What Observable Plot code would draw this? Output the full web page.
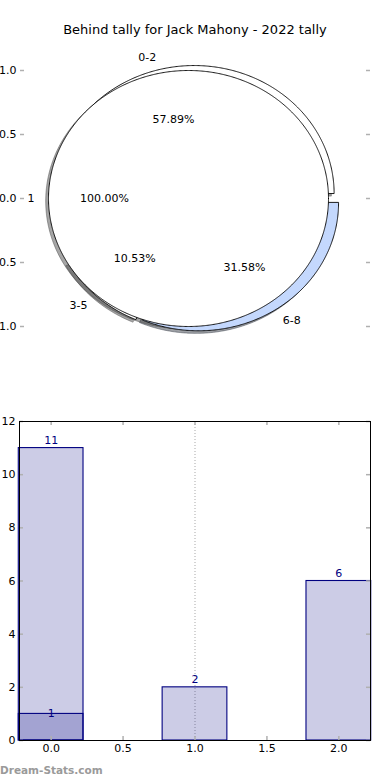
<!DOCTYPE html>
<html><head><meta charset="utf-8">
<script src="https://cdn.jsdelivr.net/npm/d3@7"></script>
<script src="https://cdn.jsdelivr.net/npm/@observablehq/plot@0.6"></script>
<style>
html,body{margin:0;padding:0;background:#fff;}
#wrap{position:relative;width:390px;height:780px;overflow:hidden;font-family:"DejaVu Sans",sans-serif;background:#fff;}
#title{position:absolute;left:0;top:0;width:390px;height:38px;box-sizing:border-box;padding-top:21px;line-height:18px;font-size:13px;text-align:center;color:#000;white-space:nowrap;}
#pie{position:absolute;left:0;top:38px;}
#bar{position:absolute;left:0;top:378px;}
#caption{position:absolute;left:0;top:761px;height:18px;line-height:18px;font-size:10.5px;font-weight:bold;color:#9a9a9a;white-space:nowrap;}
</style></head><body>
<div id="wrap">
  <div id="title">Behind tally for Jack Mahony - 2022 tally</div>
  <div id="pie"></div>
  <div id="bar"></div>
  <div id="caption">Dream-Stats.com</div>
</div>
<script>
// ---- data ----
const outerLabels = ["0-2", "3-5", "6-8"];
const outerValues = [11, 2, 6];
const outerColors = ["#ffffff", "#ffffff", "#c4d8fd"];
const innerLabels = ["1"];
const innerValues = [1];
const innerColors = ["#ffffff"];
const pieTicks = [-1, -0.5, 0, 0.5, 1];

const barCategories = [0, 1, 2];
const barValues = [11, 2, 6];
const overlayCategories = [0];
const overlayValues = [1];
const barTicksX = [0, 0.5, 1, 1.5, 2];
const barTicksY = [0, 2, 4, 6, 8, 10, 12];

// ---- settings ----
const OUTER_EXPLODE = 0.04, INNER_EXPLODE = 0.05, RADIUS = 1;
const SHADOW_DX = -0.02, SHADOW_DY = -0.02;
const BAR_WIDTH = 0.45;
const FONT = "DejaVu Sans";

function pieLayout(values, labels, colors, explode) {
  const total = d3.sum(values);
  let acc = 0;
  return values.map((v, i) => {
    const frac = v / total;
    const t1 = acc * 2 * Math.PI, t2 = (acc + frac) * 2 * Math.PI;
    acc += frac;
    const mid = (t1 + t2) / 2;
    const cx = explode * Math.cos(mid), cy = explode * Math.sin(mid);
    const full = frac > 0.999999;
    const n = Math.max(4, Math.ceil(frac * 720));
    const pts = [];
    if (!full) pts.push({x: cx, y: cy});
    for (let k = 0; k <= n; k++) {
      const t = t1 + (t2 - t1) * k / n;
      pts.push({x: cx + RADIUS * Math.cos(t), y: cy + RADIUS * Math.sin(t)});
    }
    return {label: labels[i], value: v, frac, color: colors[i], mid, cx, cy, pts};
  });
}

const outer = pieLayout(outerValues, outerLabels, outerColors, OUTER_EXPLODE);
const inner = pieLayout(innerValues, innerLabels, innerColors, INNER_EXPLODE);

function shadowColor(c) {
  const r = d3.rgb(c);
  return d3.rgb(r.r * 0.3, r.g * 0.3, r.b * 0.3).formatHex();
}
function shadowMark(w) {
  const sc = shadowColor(w.color);
  return Plot.line(w.pts.map(p => ({x: p.x + SHADOW_DX, y: p.y + SHADOW_DY})),
    {x: "x", y: "y", fill: sc, stroke: sc, fillOpacity: 0.5, strokeOpacity: 0.5, strokeWidth: 1, curve: "linear-closed"});
}
function wedgeMark(w) {
  return Plot.line(w.pts, {x: "x", y: "y", fill: w.color, stroke: "black", strokeWidth: 0.9, curve: "linear-closed"});
}

const allWedges = [...outer, ...inner];
const labelData = allWedges.map(w => ({
  label: w.label,
  x: w.cx + 1.1 * RADIUS * Math.cos(w.mid),
  y: w.cy + 1.1 * RADIUS * Math.sin(w.mid)
}));
const pctData = allWedges.map(w => ({
  text: (w.frac * 100).toFixed(2) + "%",
  x: w.cx + 0.6 * RADIUS * Math.cos(w.mid),
  y: w.cy + 0.6 * RADIUS * Math.sin(w.mid)
}));

const tickGray = "#b0b0b0";

const pie = Plot.plot({
  width: 390, height: 340,
  marginTop: 0, marginBottom: 20, marginLeft: 20, marginRight: 20,
  style: {fontFamily: FONT, fontSize: "11px", background: "white", color: "black", overflow: "visible"},
  x: {domain: [-1.25, 1.25], axis: null},
  y: {domain: [-1.25, 1.25], label: null},
  marks: [
    ...outer.map(shadowMark),
    ...inner.map(shadowMark),
    ...outer.map(wedgeMark),
    ...inner.map(wedgeMark),
    Plot.text(labelData.filter(d => d.x > 0), {x: "x", y: "y", text: "label", textAnchor: "start", fill: "black"}),
    Plot.text(labelData.filter(d => d.x <= 0), {x: "x", y: "y", text: "label", textAnchor: "end", fill: "black"}),
    Plot.text(pctData, {x: "x", y: "y", text: "text", textAnchor: "middle", fill: "black"}),
    Plot.tickY(pieTicks, {y: d => d, stroke: tickGray, strokeWidth: 1.5, insetRight: 346}),
    Plot.tickY(pieTicks, {y: d => d, stroke: tickGray, strokeWidth: 1.5, insetLeft: 346}),
    Plot.axisY(pieTicks, {anchor: "left", tickSize: 0, tickPadding: 4, tickFormat: d => d.toFixed(1), label: null, fill: "black"})
  ]
});
document.getElementById("pie").appendChild(pie);

const barData = barCategories.map((c, i) => ({c, v: barValues[i]}));
const overlayData = overlayCategories.map((c, i) => ({c, v: overlayValues[i]}));

const bar = Plot.plot({
  width: 390, height: 384,
  marginTop: 43, marginBottom: 22, marginLeft: 19, marginRight: 20,
  style: {fontFamily: FONT, fontSize: "11px", background: "white", color: "black", overflow: "visible"},
  x: {domain: [-0.22, 2.22], label: null},
  y: {domain: [0, 12], label: null},
  marks: [
    Plot.ruleX([1], {x: d => d, stroke: "#a8a8a8", strokeWidth: 1, strokeDasharray: "1,2"}),
    Plot.rect(barData, {x1: d => d.c - BAR_WIDTH / 2, x2: d => d.c + BAR_WIDTH / 2, y1: d => 0, y2: "v", fill: "navy", fillOpacity: 0.2, stroke: "navy", strokeWidth: 1.1}),
    Plot.rect(overlayData, {x1: d => d.c - BAR_WIDTH / 2, x2: d => d.c + BAR_WIDTH / 2, y1: d => 0, y2: "v", fill: "navy", fillOpacity: 0.2, stroke: "navy", strokeWidth: 1.1}),
    Plot.text(barData, {x: "c", y: "v", text: d => String(d.v), fill: "navy", dy: -8}),
    Plot.text(overlayData, {x: "c", y: "v", text: d => String(d.v), fill: "navy", dy: 0}),
    Plot.tickY(barTicksY, {y: d => d, stroke: tickGray, strokeWidth: 1.5, insetRight: 347}),
    Plot.tickY(barTicksY, {y: d => d, stroke: tickGray, strokeWidth: 1.5, insetLeft: 347}),
    Plot.tickX(barTicksX, {x: d => d, stroke: tickGray, strokeWidth: 1.5, insetBottom: 315}),
    Plot.tickX(barTicksX, {x: d => d, stroke: tickGray, strokeWidth: 1.5, insetTop: 315}),
    Plot.frame({stroke: "black", strokeWidth: 1}),
    Plot.axisY(barTicksY, {anchor: "left", tickSize: 0, tickPadding: 4, label: null, fill: "black"}),
    Plot.axisX(barTicksX, {anchor: "bottom", tickSize: 0, tickPadding: 4, tickFormat: d => d.toFixed(1), label: null, fill: "black"})
  ]
});
document.getElementById("bar").appendChild(bar);
</script>
</body></html>
